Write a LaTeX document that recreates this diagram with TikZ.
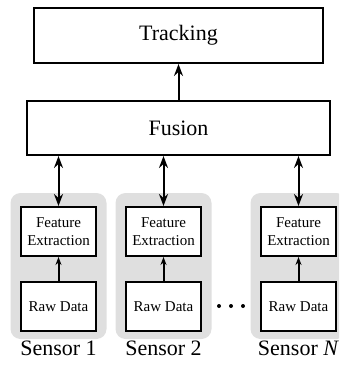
\documentclass[tikz,border=0pt]{standalone}
\usepackage{fontspec}
\setmainfont{LiberationSerif}[Extension=.ttf,
  UprightFont=*-Regular, ItalicFont=*-Italic,
  BoldFont=*-Bold, BoldItalicFont=*-BoldItalic]
\usetikzlibrary{arrows.meta}

\begin{document}
\begin{tikzpicture}[x=0.5pt,y=-0.5pt,
    >={Stealth[length=6pt,width=4.5pt,inset=2pt]},
    block/.style={draw, line width=1pt, fill=white,
      minimum width=151.5pt, minimum height=27pt,
      font=\fontsize{11}{13}\selectfont},
    unit/.style={draw, line width=1pt, fill=white,
      minimum width=37.5pt, minimum height=24.5pt,
      inner sep=1pt, align=center,
      font=\fontsize{7.5}{9}\selectfont},
    panel/.style={fill=gray!25, rounded corners=5pt},
    link/.style={line width=1pt}]
  \useasboundingbox (0,0) rectangle (339,370);
  \clip (0,0) rectangle (339,370);

  \node[block, minimum width=144.5pt, minimum height=27.5pt] (track) at (178.5,35.5) {Tracking};
  \node[block] (fusion) at (178.5,128) {Fusion};
  \draw[link,->] (fusion) -- (track);

  % one column per sensor
  \foreach \i/\x/\lab in {1/58.5/1, 2/163.5/2, n/298.5/\textit{N}} {
    \fill[panel] (\x-48,193) rectangle (\x+48,339);
    \node[unit] (fe\i) at (\x,231.5) {Feature\\Extraction};
    \node[unit] (raw\i) at (\x,306.5) {Raw Data};
    \node[font=\fontsize{11}{13}\selectfont] (sensor\i) at (\x,348) {Sensor \lab};
    \draw[link,{Stealth[length=4pt,width=3pt,inset=1.3pt]}-] (fe\i) -- (raw\i);
    \draw[link,<->] (fe\i.north) -- (fusion.south -| fe\i.north);
  }

  % more sensors in between
  \foreach \d in {219,231,243}
    \fill (\d,306) circle (1pt);
\end{tikzpicture}
\end{document}
